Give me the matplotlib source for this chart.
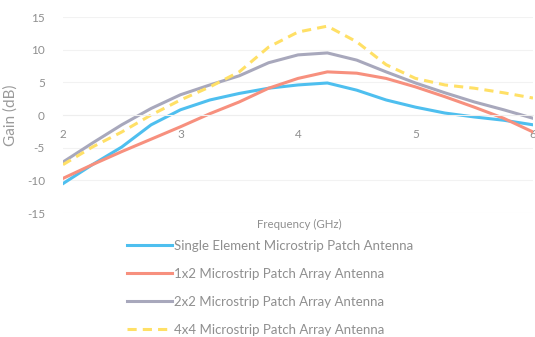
import matplotlib
matplotlib.use("Agg")
import matplotlib.pyplot as plt

plt.rcParams['font.family'] = ['Lato', 'DejaVu Sans']
plt.rcParams['axes.unicode_minus'] = False

# frequency samples (GHz) and gain (dB) for each antenna
freq = [2.0, 2.25, 2.5, 2.75, 3.0, 3.25, 3.5, 3.75, 4.0,
        4.25, 4.5, 4.75, 5.0, 5.25, 5.5, 5.75, 6.0]
single = [-10.5, -7.6, -4.9, -1.5, 0.8, 2.3, 3.3, 4.1, 4.6,
          4.9, 3.8, 2.3, 1.2, 0.3, -0.3, -0.8, -1.5]
array_1x2 = [-9.7, -7.6, -5.6, -3.7, -1.8, 0.2, 2.0, 4.1, 5.6,
             6.6, 6.4, 5.6, 4.3, 2.8, 1.2, -0.5, -2.6]
array_2x2 = [-7.2, -4.3, -1.5, 1.0, 3.1, 4.6, 6.0, 8.0, 9.2,
             9.5, 8.4, 6.6, 4.9, 3.4, 2.0, 0.8, -0.5]
array_4x4 = [-7.6, -4.9, -2.6, 0.0, 2.3, 4.3, 6.6, 10.4, 12.7,
             13.6, 11.2, 7.7, 5.6, 4.6, 4.1, 3.4, 2.6]

labels = ["Single Element Microstrip Patch Antenna",
          "1x2 Microstrip Patch Array Antenna",
          "2x2 Microstrip Patch Array Antenna",
          "4x4 Microstrip Patch Array Antenna"]
x_ticks = [2, 3, 4, 5, 6]
y_ticks = [-15, -10, -5, 0, 5, 10, 15]

W, H = 535, 337
fig = plt.figure(figsize=(W / 100, H / 100), dpi=100)
ax = fig.add_axes([63 / W, 1 - 213 / H, 470 / W, 196 / H])

ax.plot(freq, single, color='#4EBFEF', lw=2.2, label=labels[0])
ax.plot(freq, array_1x2, color='#F7907E', lw=2.2, label=labels[1])
ax.plot(freq, array_2x2, color='#A8A8BC', lw=2.2, label=labels[2])
ax.plot(freq, array_4x4, color='#FFE066', lw=2.2, ls=(0, (3, 2)), label=labels[3])

ax.set_xlim(2, 6)
ax.set_ylim(-15, 15)
ax.set_xticks(x_ticks)
ax.set_yticks(y_ticks)
ax.set_xticklabels([str(t) for t in x_ticks])
ax.set_yticklabels([str(t) for t in y_ticks])
for s in ['top', 'right', 'left']:
    ax.spines[s].set_visible(False)
ax.spines['bottom'].set_position(('data', 0))
ax.spines['bottom'].set_color('#eeeeee')
ax.grid(axis='y', color='#f2f2f2', lw=0.8)
ax.set_axisbelow(True)
ax.tick_params(length=0, labelsize=8.5, colors='#8f8f8f')
ax.tick_params(axis='x', pad=10)
ax.tick_params(axis='y', pad=13)

fig.text(11 / W, 1 - 115 / H, "Gain (dB)", rotation=90, ha='center', va='center',
         fontsize=11, color='#9a9a9a')
fig.text(299 / W, 1 - 224 / H, "Frequency (GHz)", ha='center', va='center',
         fontsize=8.3, color='#8f8f8f')

handles, lbls = ax.get_legend_handles_labels()
fig.legend(handles, lbls, loc='upper left', bbox_to_anchor=(127 / W, 1 - 240 / H),
           frameon=False, fontsize=9.5, labelcolor='#8f8f8f', handlelength=3.4,
           handletextpad=0.15, labelspacing=1.2, borderpad=0, borderaxespad=0)

fig.savefig("out.png", dpi=100)
